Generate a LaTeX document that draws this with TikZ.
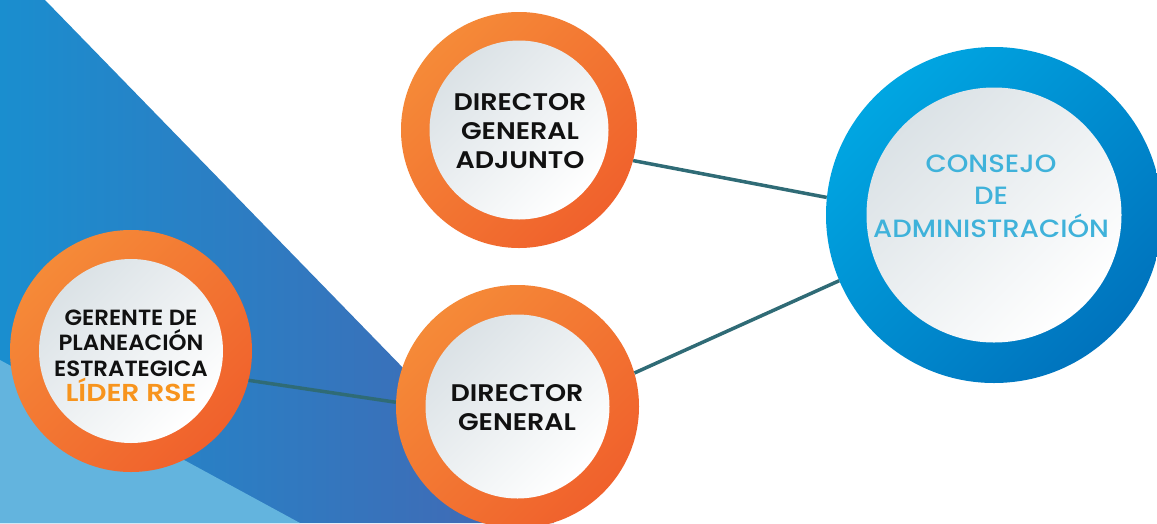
\documentclass[tikz,border=0pt]{standalone}
\usepackage{fontspec}
\setmainfont{Poppins}
\newfontfamily\semib{Poppins SemiBold}[FakeStretch=1.12]
\newfontfamily\semibn{Poppins SemiBold}[FakeStretch=1.04]
\newfontfamily\semibw{Poppins SemiBold}[FakeStretch=1.15]
\newfontfamily\medf{Poppins Medium}[FakeStretch=1.1]
\definecolor{bigL}{HTML}{1A8ECF}
\definecolor{bigR}{HTML}{4566B2}
\definecolor{lightbl}{HTML}{63B4DE}
\definecolor{orL}{HTML}{F58A38}
\definecolor{orD}{HTML}{F0612C}
\definecolor{blL}{HTML}{00A6E2}
\definecolor{blD}{HTML}{0073BD}
\definecolor{inL}{HTML}{DBE2E6}
\definecolor{inD}{HTML}{FFFFFF}
\definecolor{linec}{HTML}{2F6B76}
\definecolor{lider}{HTML}{F7941D}
\definecolor{constxt}{HTML}{3FB2DA}
\definecolor{txt}{HTML}{111111}
\tikzset{
  ring/.style={circle, inner sep=0pt, top color=orL, bottom color=orD, shading angle=45},
  bluering/.style={circle, inner sep=0pt, top color=blL, bottom color=blD, shading angle=45},
  disc/.style={circle, inner sep=0pt, top color=inL, bottom color=inD, shading angle=45},
  lbl/.style={align=center, text=txt, font=\semib\fontsize{24}{29}\selectfont},
  conn/.style={draw=linec, line width=3.5pt}
}
\begin{document}
\begin{tikzpicture}[x=1pt,y=-1pt]
\clip (0,0) rectangle (1157,523);
\fill[white] (0,0) rectangle (1157,523);
% background
\shade[left color=bigL, right color=bigR] (0,0) -- (45,0) -- (554,523) -- (0,523) -- cycle;
\fill[lightbl] (0,360) -- (300,523) -- (0,523) -- cycle;
% circles
\node[ring, minimum size=236pt] (dga) at (519,130) {};
\node[disc, minimum size=179pt] (dgaI) at (dga) {};
\node[ring, minimum size=243pt] (dg) at (517.5,406.5) {};
\node[disc, minimum size=184pt] (dgI) at (dg) {};
\node[ring, minimum size=242pt] (ger) at (131,351) {};
\node[disc, minimum size=184pt] (gerI) at (ger) {};
\node[bluering, minimum size=336pt] (cons) at (994,215) {};
\node[disc, minimum size=255pt] (consI) at (cons) {};
% connectors
\draw[conn] (dga.-15) -- (cons.174);
\draw[conn] (dg.16) -- (cons.203);
\draw[conn] (ger.-14.5) -- (dg.178);
% labels
\node[lbl] (tdga) at (520,131) {DIRECTOR\\GENERAL\\ADJUNTO};
\node[lbl] (tdg) at (517,408) {DIRECTOR\\GENERAL};
\node[lbl, font=\semibn\fontsize{22}{25.5}\selectfont] (tger) at (131,356) {GERENTE DE\\PLANEACIÓN\\ESTRATEGICA\\\textcolor{lider}{\semibw\fontsize{24.5}{26}\selectfont LÍDER RSE}};
\node[lbl, text=constxt, font=\medf\fontsize{25}{32.5}\selectfont] (tcons) at (991,196) {CONSEJO\\DE\\ADMINISTRACIÓN};
\end{tikzpicture}
\end{document}
